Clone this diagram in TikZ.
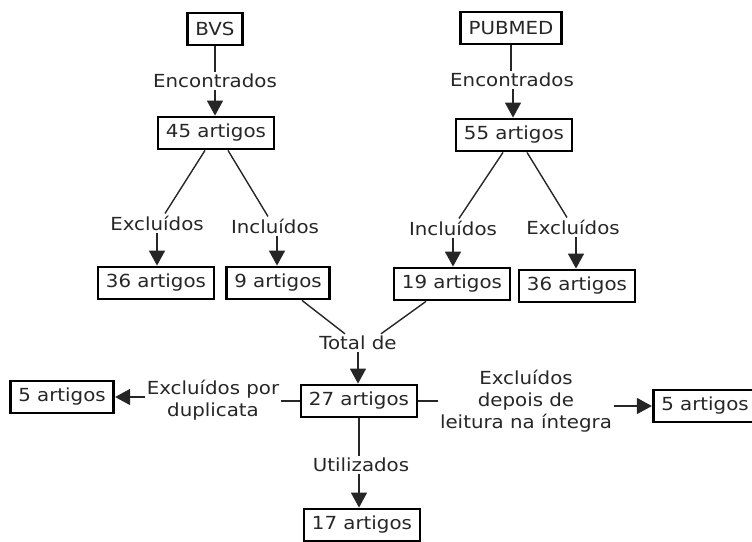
\documentclass[tikz,border=0pt]{standalone}
\usepackage{fontspec}
\setmainfont[FakeStretch=1.1]{DejaVu Sans}
\usetikzlibrary{arrows.meta}
\begin{document}
\begin{tikzpicture}[x=1pt,y=-1pt,
  font=\fontsize{18}{22}\selectfont,
  box/.style={draw=black, line width=2.8pt, fill=white, inner xsep=8pt, inner ysep=0pt, minimum height=32pt, text=black!85},
  lbl/.style={inner sep=2pt, align=center, text=black!85},
  conn/.style={line width=1.4pt, draw=black!85},
  arr/.style={conn, -{Triangle[length=15pt,width=16pt]}}]
\useasboundingbox (0,0) rectangle (752,541);
% nodes
\node[box] (bvs) at (215,29) {BVS};
\node[lbl] (enc1) at (215,81) {Encontrados};
\node[box] (a45) at (216,133) {45 artigos};
\node[lbl] (exc1) at (157,223) {Excluídos};
\node[lbl] (inc1) at (275,226) {Incluídos};
\node[box] (b36) at (156,283) {36 artigos};
\node[box] (b9) at (278,283) {9 artigos};

\node[box] (pub) at (511,28) {PUBMED};
\node[lbl] (enc2) at (512,80) {Encontrados};
\node[box] (a55) at (514,135) {55 artigos};
\node[lbl] (inc2) at (453,228) {Incluídos};
\node[lbl] (exc2) at (573,227) {Excluídos};
\node[box] (b19) at (452,284) {19 artigos};
\node[box] (c36) at (577,286) {36 artigos};

\node[lbl] (tot) at (358,343) {Total de};
\node[box] (a27) at (359,401) {27 artigos};
\node[lbl] (dup) at (213,400) {Excluídos por\\duplicata};
\node[box] (a5l) at (62,397) {5 artigos};
\node[lbl] (lei) at (526,401) {Excluídos\\depois de\\leitura na íntegra};
\node[box] (a5r) at (705,406) {5 artigos};
\node[lbl] (util) at (361,465) {Utilizados};
\node[box] (a17) at (362,525) {17 artigos};

% connectors
\draw[conn] (bvs.south) -- (bvs.south |- enc1.north);
\draw[arr] (bvs.south |- enc1.south) -- (bvs.south |- a45.north);
\draw[conn] ([xshift=-11pt]a45.south) -- ([xshift=8pt]exc1.north);
\draw[conn] ([xshift=12pt]a45.south) -- ([xshift=-7pt]inc1.north);
\draw[arr] (exc1.south) -- (exc1.south |- b36.north);
\draw[arr] ([xshift=2pt]inc1.south) -- ([xshift=2pt]inc1.south |- b9.north);

\draw[conn] (pub.south) -- (pub.south |- enc2.north);
\draw[arr] ([xshift=2pt]pub.south |- enc2.south) -- ([xshift=2pt]pub.south |- a55.north);
\draw[conn] ([xshift=-11pt]a55.south) -- ([xshift=6pt]inc2.north);
\draw[conn] ([xshift=13pt]a55.south) -- ([xshift=-6pt]exc2.north);
\draw[arr] (inc2.south) -- (inc2.south |- b19.north);
\draw[arr] ([xshift=3pt]exc2.south) -- ([xshift=3pt]exc2.south |- c36.north);

\draw[conn] ([xshift=24pt]b9.south) -- ([xshift=-13pt]tot.north);
\draw[conn] ([xshift=-26pt]b19.south) -- ([xshift=23pt]tot.north);
\draw[arr] (tot.south) -- (tot.south |- a27.north);

\draw[conn] (a27.west) -- (dup.east |- a27.west);
\draw[arr] (dup.west |- a5l.east) -- (a5l.east);
\draw[conn] (a27.east) -- (lei.west |- a27.east);
\draw[arr] (lei.east |- a5r.west) -- (a5r.west);

\draw[conn] (a27.south) -- (a27.south |- util.north);
\draw[arr] (a27.south |- util.south) -- (a27.south |- a17.north);
\end{tikzpicture}
\end{document}
